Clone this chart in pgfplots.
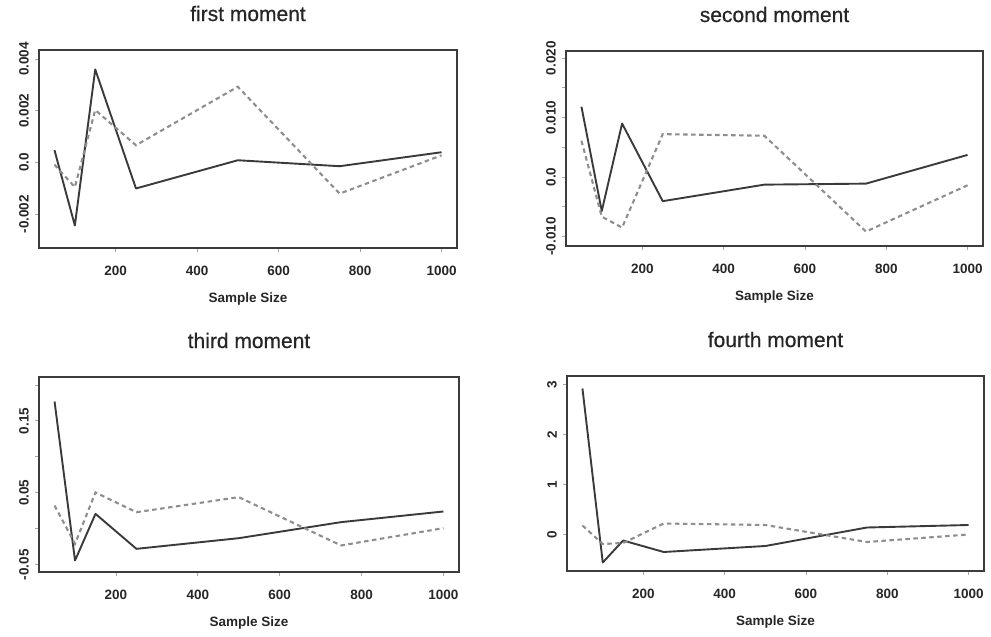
\documentclass[border=0pt]{standalone}
\usepackage{pgfplots}
\pgfplotsset{compat=1.18}
\usepackage{fontspec}
\setmainfont{Liberation Sans}
\newfontfamily\titlefont{Liberation Sans}[FakeBold=0.5]

\definecolor{solidc}{HTML}{3A3A3A}
\definecolor{dashc}{HTML}{8E8E8E}
\definecolor{framec}{HTML}{3C3C3C}
\definecolor{textc}{HTML}{262626}

\pgfplotsset{
  momentaxis/.style={
    scale only axis, anchor=south west,
    xmin=12, xmax=1038,
    xtick={200,400,600,800,1000},
    xticklabels={200,400,600,800,1000},
    scaled y ticks=false, scaled x ticks=false,
    axis line style={framec, line width=1.4bp},
    tick style={black!35, line width=0.8bp},
    major tick length=4bp,
    tick align=outside,
    xtick pos=bottom, ytick pos=left,
    ticklabel style={font=\fontsize{13.5bp}{16bp}\selectfont\bfseries, text=textc},
    xticklabel style={inner sep=0pt, anchor=north},
    xticklabel shift=14bp,
    yticklabel style={rotate=90, anchor=south, inner sep=0pt},
    yticklabel shift=6bp,
    xlabel={Sample Size},
    xlabel style={font=\fontsize{13.5bp}{16bp}\selectfont\bfseries, text=textc, at={(axis description cs:0.5,0)}, anchor=north, inner sep=0pt, yshift=-45bp},
    title style={font=\fontsize{21bp}{23bp}\titlefont, text=textc, at={(axis description cs:0.5,1)}, anchor=base, inner sep=0pt, yshift=23bp},
    clip=false,
  },
  solidline/.style={solidc, line width=1.9bp, line join=round},
  dashline/.style={dashc, line width=2.1bp, dash pattern=on 4.5bp off 3.5bp},
}

\begin{document}
\begin{tikzpicture}
\path[use as bounding box] (0,0) rectangle (991bp,637bp);

% first moment
\begin{axis}[momentaxis, at={(39bp,389bp)}, width=418bp, height=198bp,
  title={first moment},
  ymin=-0.0033, ymax=0.00435,
  ytick={-0.002,0,0.002,0.004},
  yticklabels={-0.002,0.0,0.002,0.004}]
\addplot[solidline] coordinates {(50,0.00048)(100,-0.00243)(150,0.0036)(250,-0.001)(500,0.00009)(750,-0.00014)(1000,0.0004)};
\addplot[dashline] coordinates {(50,-0.00008)(100,-0.00095)(150,0.00203)(250,0.00067)(500,0.00293)(750,-0.0012)(1000,0.00028)};
\end{axis}

% second moment
\begin{axis}[momentaxis, at={(566bp,391bp)}, width=417bp, height=195bp,
  title={second moment},
  ymin=-0.0116, ymax=0.0212,
  ytick={-0.01,-0.005,0,0.005,0.01,0.015,0.02},
  yticklabels={-0.010,,0.0,,0.010,,0.020}]
\addplot[solidline] coordinates {(50,0.01183)(100,-0.00572)(150,0.009)(250,-0.00406)(500,-0.00128)(750,-0.00111)(1000,0.00372)};
\addplot[dashline] coordinates {(50,0.0061)(100,-0.00667)(150,-0.0085)(250,0.00722)(500,0.00694)(750,-0.00917)(1000,-0.00139)};
\end{axis}

% third moment
\begin{axis}[momentaxis, at={(39bp,65bp)}, width=420bp, height=195bp,
  title={third moment},
  ymin=-0.06, ymax=0.211,
  ytick={-0.05,0,0.05,0.1,0.15,0.2},
  yticklabels={-0.05,,0.05,,0.15,}]
\addplot[solidline] coordinates {(50,0.1769)(100,-0.044)(150,0.0208)(250,-0.0278)(500,-0.013)(750,0.0093)(1000,0.0241)};
\addplot[dashline] coordinates {(50,0.0324)(100,-0.0208)(150,0.0505)(250,0.0231)(500,0.044)(750,-0.0231)(1000,0.0009)};
\end{axis}

% fourth moment
\begin{axis}[momentaxis, at={(567bp,66bp)}, width=417bp, height=195bp,
  title={fourth moment},
  ymin=-0.73, ymax=3.17,
  ytick={0,1,2,3},
  yticklabels={0,1,2,3}]
\addplot[solidline] coordinates {(50,2.92)(100,-0.56)(150,-0.12)(250,-0.35)(500,-0.23)(750,0.14)(1000,0.19)};
\addplot[dashline] coordinates {(50,0.18)(100,-0.19)(150,-0.17)(250,0.22)(500,0.19)(750,-0.15)(1000,0.0)};
\end{axis}
\end{tikzpicture}
\end{document}
